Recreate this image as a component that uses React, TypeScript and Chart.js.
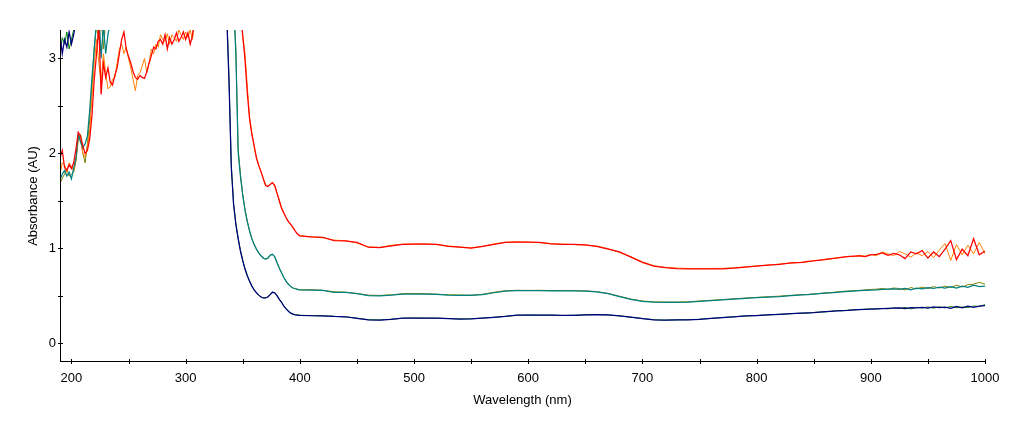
import React, { useEffect, useRef } from "react";
import { Chart, registerables } from "chart.js";

Chart.register(...registerables);

// Wavelength grid (nm)
const wavelengths = [
  190, 192, 194, 196, 198, 200, 202, 204, 206, 208,
  210, 212, 214, 216, 218, 220, 222, 224, 226, 228,
  230, 232, 234, 236, 238, 240, 242, 244, 246, 248,
  250, 252, 254, 256, 258, 260, 262, 264, 266, 268,
  270, 272, 274, 276, 278, 280, 282, 284, 286, 288,
  290, 292, 294, 296, 298, 300, 302, 304, 306, 308,
  315, 322, 329,
  334, 336, 338, 340, 342, 344, 346, 348, 350, 352,
  354, 356, 358, 360, 362, 364, 366, 368, 370, 372,
  374, 376, 378, 380, 382, 384, 386, 388, 390, 392,
  394, 396, 398, 400,
  410, 420, 430, 440, 450, 460, 470, 480, 490, 500,
  510, 520, 530, 540, 550, 560, 570, 580, 590, 600,
  610, 620, 630, 640, 650, 660, 670, 680, 690, 700,
  710, 720, 730, 740, 750, 760, 770, 780, 790, 800,
  810, 820, 830, 840,
  845, 850, 855, 860, 865, 870, 875, 880, 885, 890,
  895, 900, 905, 910, 915, 920, 925, 930, 935, 940,
  945, 950, 955, 960, 965, 970, 975, 980, 985, 990,
  995, 1000,
];

// Absorbance values (AU); values above 3.3 are off-scale
const redSeries = [
  1.95, 2.03, 1.85, 1.82, 1.88, 1.84, 1.90, 2.05, 2.22, 2.18,
  2.08, 2.00, 2.03, 2.15, 2.40, 2.78, 3.05, 3.35, 2.62, 2.95,
  2.80, 2.90, 2.75, 2.72, 2.82, 2.90, 3.05, 3.20, 3.28, 3.10,
  3.02, 2.95, 2.86, 2.80, 2.78, 2.82, 2.80, 2.79, 2.86, 2.95,
  3.03, 3.12, 3.10, 3.18, 3.20, 3.15, 3.25, 3.10, 3.22, 3.15,
  3.20, 3.27, 3.18, 3.22, 3.28, 3.20, 3.27, 3.15, 3.24, 3.45,
  3.6, 3.6, 3.6,
  3.6, 3.6, 3.6, 3.6, 3.6, 3.6, 3.6, 3.5, 3.25, 2.99,
  2.64, 2.36, 2.20, 2.08, 1.95, 1.87, 1.81, 1.73, 1.66, 1.65,
  1.67, 1.69, 1.66, 1.58, 1.50, 1.42, 1.37, 1.32, 1.28, 1.25,
  1.22, 1.18, 1.15, 1.13,
  1.12, 1.115, 1.08, 1.078, 1.06, 1.01, 1.005, 1.025, 1.04, 1.043,
  1.043, 1.04, 1.02, 1.01, 1.00, 1.02, 1.04, 1.06, 1.065, 1.065,
  1.06, 1.045, 1.04, 1.04, 1.035, 1.02, 0.99, 0.96, 0.905, 0.85,
  0.81, 0.795, 0.785, 0.783, 0.783, 0.783, 0.783, 0.79, 0.80, 0.81,
  0.82, 0.83, 0.845, 0.85,
  0.86, 0.865, 0.875, 0.88, 0.89, 0.895, 0.905, 0.91, 0.915, 0.92,
  0.91, 0.93, 0.935, 0.95, 0.925, 0.945, 0.93, 0.89, 0.96, 0.94,
  0.975, 0.895, 0.96, 0.91, 0.99, 1.08, 0.88, 0.99, 0.92, 1.10,
  0.93, 0.97,
];

const orangeSeries = [
  1.78, 1.90, 1.88, 1.80, 1.90, 1.86, 1.82, 1.95, 2.18, 2.14,
  2.00, 1.96, 2.06, 2.25, 2.60, 2.95, 3.20, 2.95, 2.75, 3.05,
  2.85, 2.68, 2.70, 2.78, 2.80, 2.95, 3.10, 3.15, 3.05, 3.12,
  3.00, 2.90, 2.78, 2.66, 2.82, 2.85, 2.92, 3.00, 2.85, 2.95,
  3.10, 3.05, 3.15, 3.12, 3.25, 3.20, 3.18, 3.26, 3.15, 3.25,
  3.22, 3.18, 3.30, 3.25, 3.20, 3.28, 3.22, 3.30, 3.20, 3.45,
  3.6, 3.6, 3.6,
  3.6, 3.6, 3.6, 3.6, 3.6, 3.6, 3.6, 3.55, 3.22, 3.05,
  2.70, 2.38, 2.22, 2.07, 1.96, 1.88, 1.80, 1.74, 1.67, 1.65,
  1.675, 1.69, 1.665, 1.585, 1.505, 1.43, 1.37, 1.325, 1.28, 1.25,
  1.215, 1.18, 1.15, 1.13,
  1.12, 1.11, 1.085, 1.078, 1.055, 1.012, 1.008, 1.03, 1.042, 1.045,
  1.046, 1.038, 1.024, 1.012, 1.003, 1.018, 1.045, 1.062, 1.068, 1.063,
  1.058, 1.048, 1.042, 1.038, 1.032, 1.022, 0.995, 0.955, 0.91, 0.855,
  0.815, 0.798, 0.79, 0.786, 0.785, 0.786, 0.787, 0.793, 0.802, 0.813,
  0.822, 0.833, 0.842, 0.852,
  0.855, 0.87, 0.87, 0.885, 0.885, 0.90, 0.90, 0.915, 0.91, 0.925,
  0.915, 0.935, 0.92, 0.96, 0.94, 0.92, 0.965, 0.94, 0.905, 0.95,
  0.92, 0.965, 0.90, 0.98, 1.05, 0.87, 1.04, 0.93, 1.03, 0.94,
  1.06, 0.94,
];

const tealSeries = [
  1.72, 1.78, 1.82, 1.76, 1.80, 1.73, 1.85, 1.95, 2.20, 2.12,
  2.06, 2.10, 2.18, 2.45, 2.80, 3.10, 3.40, 3.50, 3.00, 3.35,
  3.05, 3.25, 3.40, 3.6, 3.6, 3.6, 3.6, 3.6, 3.6, 3.6,
  3.6, 3.6, 3.6, 3.6, 3.6, 3.6, 3.6, 3.6, 3.6, 3.6,
  3.6, 3.6, 3.6, 3.6, 3.6, 3.6, 3.6, 3.6, 3.6, 3.6,
  3.6, 3.6, 3.6, 3.6, 3.6, 3.6, 3.6, 3.6, 3.6, 3.6,
  3.6, 3.6, 3.6,
  3.6, 3.6, 3.6, 3.6, 3.6, 3.05, 2.01, 1.76, 1.56, 1.40,
  1.28, 1.18, 1.10, 1.04, 0.99, 0.95, 0.92, 0.895, 0.885, 0.895,
  0.925, 0.935, 0.91, 0.85, 0.79, 0.74, 0.69, 0.65, 0.62, 0.595,
  0.58, 0.572, 0.565, 0.56,
  0.558, 0.555, 0.535, 0.533, 0.52, 0.50, 0.498, 0.505, 0.515, 0.516,
  0.516, 0.512, 0.505, 0.502, 0.502, 0.51, 0.53, 0.548, 0.552, 0.552,
  0.552, 0.55, 0.55, 0.55, 0.548, 0.54, 0.52, 0.49, 0.46, 0.44,
  0.43, 0.428, 0.428, 0.432, 0.44, 0.448, 0.455, 0.462, 0.47, 0.478,
  0.485, 0.49, 0.50, 0.508,
  0.51, 0.515, 0.52, 0.525, 0.53, 0.535, 0.54, 0.545, 0.548, 0.552,
  0.555, 0.558, 0.56, 0.565, 0.568, 0.57, 0.565, 0.575, 0.56, 0.578,
  0.57, 0.585, 0.575, 0.59, 0.58, 0.595, 0.58, 0.60, 0.588, 0.61,
  0.595, 0.60,
];

const oliveSeries = [
  1.68, 1.74, 1.78, 1.84, 1.76, 1.78, 1.80, 1.92, 2.14, 2.20,
  2.00, 1.90, 2.10, 2.35, 2.70, 3.12, 3.35, 3.20, 3.45, 3.10,
  3.40, 3.50, 3.6, 3.6, 3.6, 3.6, 3.6, 3.6, 3.6, 3.6,
  3.6, 3.6, 3.6, 3.6, 3.6, 3.6, 3.6, 3.6, 3.6, 3.6,
  3.6, 3.6, 3.6, 3.6, 3.6, 3.6, 3.6, 3.6, 3.6, 3.6,
  3.6, 3.6, 3.6, 3.6, 3.6, 3.6, 3.6, 3.6, 3.6, 3.6,
  3.6, 3.6, 3.6,
  3.6, 3.6, 3.6, 3.6, 3.6, 3.1, 2.05, 1.78, 1.57, 1.41,
  1.285, 1.185, 1.10, 1.04, 0.99, 0.95, 0.92, 0.895, 0.885, 0.895,
  0.925, 0.935, 0.91, 0.85, 0.79, 0.74, 0.69, 0.65, 0.62, 0.595,
  0.58, 0.574, 0.568, 0.562,
  0.562, 0.556, 0.54, 0.536, 0.522, 0.505, 0.502, 0.508, 0.52, 0.522,
  0.52, 0.515, 0.508, 0.506, 0.505, 0.514, 0.535, 0.552, 0.556, 0.555,
  0.556, 0.553, 0.554, 0.552, 0.55, 0.542, 0.522, 0.493, 0.463, 0.443,
  0.434, 0.432, 0.432, 0.435, 0.443, 0.45, 0.458, 0.466, 0.474, 0.481,
  0.488, 0.494, 0.503, 0.511,
  0.512, 0.518, 0.522, 0.53, 0.532, 0.538, 0.545, 0.548, 0.552, 0.555,
  0.56, 0.565, 0.568, 0.575, 0.565, 0.58, 0.575, 0.56, 0.585, 0.57,
  0.59, 0.575, 0.595, 0.58, 0.60, 0.585, 0.61, 0.59, 0.615, 0.62,
  0.64, 0.62,
];

const navySeries = [
  3.25, 3.05, 3.20, 3.12, 3.28, 3.15, 3.25, 3.40, 3.6, 3.6,
  3.6, 3.6, 3.6, 3.6, 3.6, 3.6, 3.6, 3.6, 3.6, 3.6,
  3.6, 3.6, 3.6, 3.6, 3.6, 3.6, 3.6, 3.6, 3.6, 3.6,
  3.6, 3.6, 3.6, 3.6, 3.6, 3.6, 3.6, 3.6, 3.6, 3.6,
  3.6, 3.6, 3.6, 3.6, 3.6, 3.6, 3.6, 3.6, 3.6, 3.6,
  3.6, 3.6, 3.6, 3.6, 3.6, 3.6, 3.6, 3.6, 3.6, 3.6,
  3.6, 3.6, 3.6,
  3.6, 3.45, 2.75, 1.85, 1.46, 1.25, 1.10, 0.97, 0.87, 0.78,
  0.71, 0.65, 0.60, 0.56, 0.53, 0.505, 0.485, 0.475, 0.475, 0.485,
  0.51, 0.535, 0.53, 0.50, 0.46, 0.43, 0.39, 0.36, 0.335, 0.315,
  0.305, 0.298, 0.295, 0.292,
  0.288, 0.287, 0.28, 0.277, 0.26, 0.245, 0.242, 0.25, 0.262, 0.263,
  0.263, 0.262, 0.258, 0.253, 0.255, 0.262, 0.27, 0.28, 0.293, 0.295,
  0.295, 0.293, 0.291, 0.292, 0.298, 0.30, 0.296, 0.285, 0.272, 0.258,
  0.245, 0.242, 0.243, 0.245, 0.25, 0.26, 0.268, 0.276, 0.285, 0.29,
  0.296, 0.302, 0.31, 0.315,
  0.318, 0.32, 0.325, 0.33, 0.334, 0.338, 0.342, 0.345, 0.35, 0.352,
  0.355, 0.358, 0.36, 0.362, 0.365, 0.368, 0.37, 0.362, 0.372, 0.37,
  0.375, 0.368, 0.38, 0.372, 0.378, 0.365, 0.385, 0.372, 0.388, 0.375,
  0.39, 0.395,
];

const greenSeries = [
  3.05, 3.22, 3.15, 3.28, 3.10, 3.20, 3.30, 3.45, 3.6, 3.6,
  3.6, 3.6, 3.6, 3.6, 3.6, 3.6, 3.6, 3.6, 3.6, 3.6,
  3.6, 3.6, 3.6, 3.6, 3.6, 3.6, 3.6, 3.6, 3.6, 3.6,
  3.6, 3.6, 3.6, 3.6, 3.6, 3.6, 3.6, 3.6, 3.6, 3.6,
  3.6, 3.6, 3.6, 3.6, 3.6, 3.6, 3.6, 3.6, 3.6, 3.6,
  3.6, 3.6, 3.6, 3.6, 3.6, 3.6, 3.6, 3.6, 3.6, 3.6,
  3.6, 3.6, 3.6,
  3.6, 3.5, 2.8, 1.88, 1.47, 1.26, 1.105, 0.975, 0.872, 0.782,
  0.712, 0.652, 0.602, 0.562, 0.532, 0.507, 0.487, 0.477, 0.476, 0.487,
  0.512, 0.536, 0.531, 0.502, 0.462, 0.432, 0.392, 0.362, 0.337, 0.317,
  0.306, 0.299, 0.296, 0.293,
  0.289, 0.286, 0.281, 0.276, 0.262, 0.246, 0.243, 0.251, 0.261, 0.264,
  0.262, 0.261, 0.259, 0.254, 0.256, 0.263, 0.271, 0.282, 0.292, 0.296,
  0.294, 0.294, 0.29, 0.293, 0.297, 0.301, 0.295, 0.286, 0.271, 0.259,
  0.246, 0.241, 0.244, 0.246, 0.251, 0.259, 0.269, 0.277, 0.284, 0.291,
  0.297, 0.303, 0.309, 0.316,
  0.316, 0.322, 0.326, 0.328, 0.335, 0.34, 0.34, 0.347, 0.348, 0.354,
  0.356, 0.36, 0.358, 0.365, 0.36, 0.37, 0.365, 0.375, 0.36, 0.376,
  0.37, 0.38, 0.368, 0.382, 0.37, 0.385, 0.372, 0.38, 0.375, 0.39,
  0.385, 0.405,
];

// Axis ticks
const xTicks = [200, 250, 300, 350, 400, 450, 500, 550, 600, 650, 700, 750, 800, 850, 900, 950, 1000];
const xLabelled = [200, 300, 400, 500, 600, 700, 800, 900, 1000];
const yTicks = [0, 0.5, 1, 1.5, 2, 2.5, 3];
const yLabelled = [0, 1, 2, 3];

const FONT_FAMILY = "'Liberation Sans', Arial, Helvetica, sans-serif";

const axesPlugin = {
  id: "axesAndTicks",
  afterDraw(chart: any) {
    const { ctx, chartArea, scales } = chart;
    const { left, right, top, bottom } = chartArea;
    const ax = Math.round(left) + 0.5;
    const ay = Math.round(bottom) - 0.5;
    ctx.save();
    ctx.strokeStyle = "#000";
    ctx.lineWidth = 1;
    ctx.beginPath();
    ctx.moveTo(ax, Math.round(top));
    ctx.lineTo(ax, ay + 0.5);
    ctx.moveTo(ax - 0.5, ay);
    ctx.lineTo(Math.round(right) + 1, ay);
    for (const v of xTicks) {
      const px = Math.round(scales.x.getPixelForValue(v)) + 0.5;
      ctx.moveTo(px, ay - 2.5);
      ctx.lineTo(px, ay + 2.5);
    }
    for (const v of yTicks) {
      const py = Math.round(scales.y.getPixelForValue(v)) + 0.5;
      ctx.moveTo(ax - 2.5, py);
      ctx.lineTo(ax + 2.5, py);
    }
    ctx.stroke();
    ctx.restore();
  },
};

export default function App() {
  const canvasRef = useRef<HTMLCanvasElement | null>(null);

  useEffect(() => {
    if (!canvasRef.current) return;
    const mk = (label: string, values: number[], color: string, width: number) => ({
      label,
      data: wavelengths.map((x, i) => ({ x, y: values[i] })),
      borderColor: color,
      backgroundColor: color,
      borderWidth: width,
      pointRadius: 0,
      pointHoverRadius: 0,
      tension: 0,
      fill: false,
    });

    const font = { family: FONT_FAMILY, size: 13 };

    const chart = new Chart(canvasRef.current, {
      type: "line",
      data: {
        datasets: [
          mk("Red", redSeries, "#FF0000", 1.25),
          mk("Teal", tealSeries, "#008080", 1.25),
          mk("Navy", navySeries, "#000080", 1.25),
          mk("Orange", orangeSeries, "#FF8000", 1),
          mk("Olive", oliveSeries, "#808000", 1),
          mk("Green", greenSeries, "#008000", 1),
        ],
      },
      options: {
        responsive: false,
        animation: false,
        events: [],
        layout: { padding: { top: 30, right: 41, left: 0, bottom: 0 } },
        plugins: {
          legend: { display: false },
          tooltip: { enabled: false },
        },
        scales: {
          x: {
            type: "linear",
            min: 190,
            max: 1000,
            afterBuildTicks: (scale: any) => {
              scale.ticks = xTicks.map((value) => ({ value }));
            },
            afterFit: (scale: any) => {
              scale.height = 61;
            },
            grid: { display: false, drawTicks: false },
            border: { display: false },
            ticks: {
              autoSkip: false,
              maxRotation: 0,
              padding: 8.5,
              color: "#000",
              font,
              callback: (v: any) => (xLabelled.includes(Number(v)) ? String(v) : ""),
            },
            title: {
              display: true,
              text: "Wavelength (nm)",
              color: "#000",
              font,
              padding: { top: 0, bottom: 15 },
            },
          },
          y: {
            type: "linear",
            min: -0.2,
            max: 3.3,
            afterBuildTicks: (scale: any) => {
              scale.ticks = yTicks.map((value) => ({ value }));
            },
            afterFit: (scale: any) => {
              scale.width = 60;
            },
            grid: { display: false, drawTicks: false },
            border: { display: false },
            ticks: {
              autoSkip: false,
              padding: 4,
              color: "#000",
              font,
              callback: (v: any) => (yLabelled.includes(Number(v)) ? String(v) : ""),
            },
            title: {
              display: true,
              text: "Absorbance (AU)",
              color: "#000",
              font,
              padding: { top: 26, bottom: 0 },
            },
          },
        },
      },
      plugins: [axesPlugin],
    });

    return () => chart.destroy();
  }, []);

  return (
    <div style={{ position: "absolute", left: 0, top: 0, width: 1026, height: 423, background: "#fff" }}>
      <canvas ref={canvasRef} width={1026} height={423} style={{ display: "block" }} />
    </div>
  );
}
